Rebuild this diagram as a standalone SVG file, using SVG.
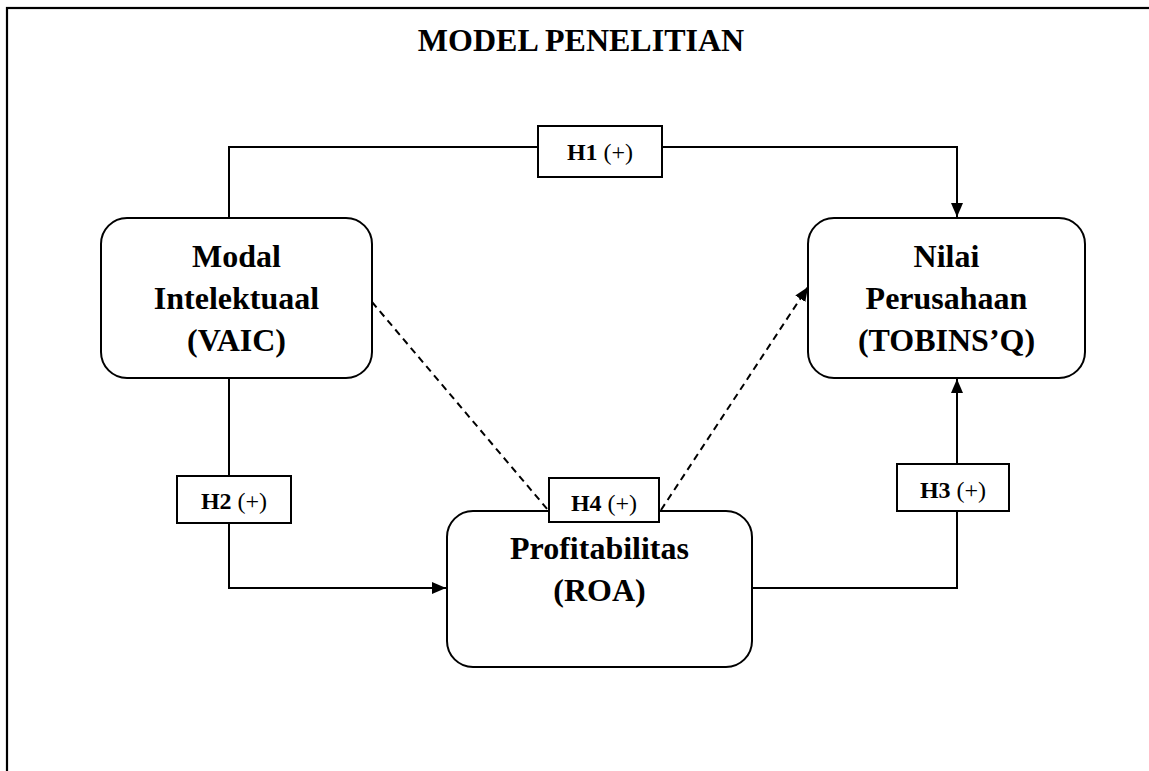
<svg xmlns="http://www.w3.org/2000/svg" width="1149" height="771" viewBox="0 0 1149 771">
  <defs>
    <marker id="arrow" markerUnits="userSpaceOnUse" markerWidth="14" markerHeight="12" refX="14" refY="6" orient="auto">
      <path d="M0,0 L14,6 L0,12 z" fill="#000"/>
    </marker>
    <style>
      .frame { fill: none; stroke: #000; stroke-width: 2.2; }
      .node { fill: #fff; stroke: #000; stroke-width: 2; }
      .tag { fill: #fff; stroke: #000; stroke-width: 2; }
      .link { fill: none; stroke: #000; stroke-width: 2; }
      .dash { fill: none; stroke: #000; stroke-width: 2; stroke-dasharray: 7 5; }
      .title { font-family: "Liberation Serif", "Times New Roman", serif; font-size: 32px; font-weight: bold; fill: #000; text-anchor: middle; }
      .label { font-family: "Liberation Serif", "Times New Roman", serif; font-size: 32px; font-weight: bold; fill: #000; text-anchor: middle; }
      .hyp { font-family: "Liberation Serif", "Times New Roman", serif; font-size: 24px; fill: #000; text-anchor: middle; }
      .hyp .b { font-weight: bold; }
    </style>
  </defs>

  <rect width="1149" height="771" fill="#fff"/>

  <!-- outer frame (open to the right and bottom) -->
  <rect class="frame" x="7" y="8" width="1200" height="820"/>

  <text class="title" x="581" y="51">MODEL PENELITIAN</text>

  <!-- connectors -->
  <g id="connectors">
    <path class="link" d="M229,218 V147 H957 V217" marker-end="url(#arrow)"/>
    <path class="link" d="M229,378 V588 H446" marker-end="url(#arrow)"/>
    <path class="link" d="M752,588 H957 V379" marker-end="url(#arrow)"/>
    <path class="dash" d="M372,302 L548,510"/>
    <path class="dash" d="M661,510 L808,287" marker-end="url(#arrow)"/>
  </g>

  <g id="node-modal">
    <rect class="node" x="101" y="218" width="271" height="160" rx="26" ry="26"/>
    <text class="label" x="236.5" y="267">Modal</text>
    <text class="label" x="236.5" y="309">Intelektuaal</text>
    <text class="label" x="236.5" y="351">(VAIC)</text>
  </g>

  <g id="node-nilai">
    <rect class="node" x="808" y="218" width="277" height="160" rx="26" ry="26"/>
    <text class="label" x="946.5" y="267">Nilai</text>
    <text class="label" x="946.5" y="309">Perusahaan</text>
    <text class="label" x="946.5" y="351">(TOBINS’Q)</text>
  </g>

  <g id="node-profit">
    <rect class="node" x="447" y="511" width="305" height="156" rx="26" ry="26"/>
    <text class="label" x="599.5" y="559">Profitabilitas</text>
    <text class="label" x="599.5" y="601">(ROA)</text>
  </g>

  <g id="tag-h1">
    <rect class="tag" x="538" y="126" width="124" height="51"/>
    <text class="hyp" x="600" y="160"><tspan class="b">H1</tspan> (+)</text>
  </g>

  <g id="tag-h2">
    <rect class="tag" x="177" y="476" width="114" height="47"/>
    <text class="hyp" x="234" y="509"><tspan class="b">H2</tspan> (+)</text>
  </g>

  <g id="tag-h3">
    <rect class="tag" x="897" y="464" width="112" height="47"/>
    <text class="hyp" x="953" y="498"><tspan class="b">H3</tspan> (+)</text>
  </g>

  <g id="tag-h4">
    <rect class="tag" x="549" y="478" width="110" height="44"/>
    <text class="hyp" x="604" y="511"><tspan class="b">H4</tspan> (+)</text>
  </g>
</svg>
